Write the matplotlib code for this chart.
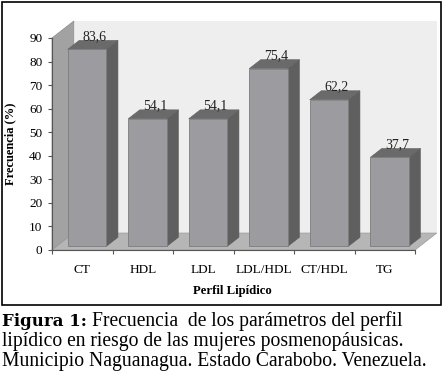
import matplotlib
matplotlib.use("Agg")
import matplotlib.pyplot as plt
from matplotlib.patches import Polygon, Rectangle

# data
categories = ["CT", "HDL", "LDL", "LDL/HDL", "CT/HDL", "TG"]
values = [83.6, 54.1, 54.1, 75.4, 62.2, 37.7]
value_labels = ["83,6", "54,1", "54,1", "75,4", "62,2", "37,7"]
yticks = [0, 10, 20, 30, 40, 50, 60, 70, 80, 90]

SERIF = "Liberation Serif"

fig = plt.figure(figsize=(4.45, 3.82), dpi=100)
W, H = 445, 382

# axes = front plane of the 3d box
ax = fig.add_axes([52 / W, 1 - 250 / H, 363 / W, 212 / H])
ax.set_xlim(0, 6)
ax.set_ylim(0, 90)
ax.patch.set_visible(False)

# depth of the box in data units
dx, dy = 0.36, 7.2
ymax = 90
n = len(categories)

# walls and floor
back = Polygon([(dx, dy), (n + dx, dy), (n + dx, ymax + dy), (dx, ymax + dy)],
               closed=True, fc="#eeeeee", ec="none", clip_on=False, zorder=0)
side = Polygon([(0, 0), (dx, dy), (dx, ymax + dy), (0, ymax)],
               closed=True, fc="#a2a2a2", ec="#8a8a8a", lw=0.5, clip_on=False, zorder=0.5)
floor = Polygon([(0, 0), (n, 0), (n + dx, dy), (dx, dy)],
                closed=True, fc="#b6b6b6", ec="#9a9a9a", lw=0.5, clip_on=False, zorder=0.5)
for p in (back, side, floor):
    ax.add_patch(p)

# 3d bars
bw = 0.64
f0, f1 = 0.22, 0.75
for i, v in enumerate(values):
    x0 = i + 0.5 - bw / 2 + f0 * dx
    x1 = x0 + bw
    y0 = f0 * dy
    ddx = (f1 - f0) * dx
    ddy = (f1 - f0) * dy
    front = Polygon([(x0, y0), (x1, y0), (x1, y0 + v), (x0, y0 + v)],
                    closed=True, fc="#9c9ca0", ec="#7c7c7c", lw=0.6, clip_on=False, zorder=2)
    right = Polygon([(x1, y0), (x1 + ddx, y0 + ddy), (x1 + ddx, y0 + ddy + v), (x1, y0 + v)],
                    closed=True, fc="#5f5f5f", ec="#5a5a5a", lw=0.4, clip_on=False, zorder=2)
    top = Polygon([(x0, y0 + v), (x1, y0 + v), (x1 + ddx, y0 + ddy + v), (x0 + ddx, y0 + ddy + v)],
                  closed=True, fc="#6a6a6a", ec="#626262", lw=0.4, clip_on=False, zorder=2)
    for p in (right, top, front):
        ax.add_patch(p)
    ax.text(i + 0.5 + 0.2, v + 7.0, value_labels[i], ha="center", va="center",
            fontsize=10, family=SERIF, color="#222222", zorder=3, clip_on=False)

# axes lines and ticks
for s in ("top", "right"):
    ax.spines[s].set_visible(False)
for s in ("left", "bottom"):
    ax.spines[s].set_color("#555555")
    ax.spines[s].set_linewidth(0.8)
    ax.spines[s].set_zorder(4)

ax.set_yticks(yticks)
ax.set_yticklabels([str(t) for t in yticks], family=SERIF, fontsize=9.5)
ax.tick_params(axis="y", length=3, width=0.8, color="#555555", pad=4)

ax.set_xticks([i + 0.5 for i in range(n)])
ax.set_xticklabels(categories, family=SERIF, fontsize=9.5)
ax.set_xticks(list(range(n + 1)), minor=True)
ax.tick_params(axis="x", which="major", length=0, pad=10)
ax.tick_params(axis="x", which="minor", length=3, width=0.8, color="#555555")

fig.text(10 / W, 1 - 144 / H, "Frecuencia (%)", rotation=90, ha="center", va="center",
         family=SERIF, fontsize=9, fontweight="bold")
fig.text(232 / W, 1 - 291 / H, "Perfil Lipídico", ha="center", va="center",
         family=SERIF, fontsize=9.2, fontweight="bold")

# frame around the chart
fig.add_artist(Rectangle((2 / W, 1 - 305 / H), 439 / W, 303 / H, transform=fig.transFigure,
                         fill=False, ec="black", lw=1.2))

# caption
fig.text(2 / W, 1 - 326 / H, "Figura 1:", family="DejaVu Serif", fontweight="bold",
         fontsize=12, va="baseline", ha="left")
fig.text(92 / W, 1 - 326 / H, "Frecuencia  de los parámetros del perfil", family=SERIF,
         fontsize=14.1, va="baseline", ha="left")
fig.text(2 / W, 1 - 346 / H, "lipídico en riesgo de las mujeres posmenopáusicas.", family=SERIF,
         fontsize=14.1, va="baseline", ha="left")
fig.text(2 / W, 1 - 366 / H, "Municipio Naguanagua. Estado Carabobo. Venezuela.", family=SERIF,
         fontsize=14.1, va="baseline", ha="left")

fig.savefig("out.png", dpi=100)
